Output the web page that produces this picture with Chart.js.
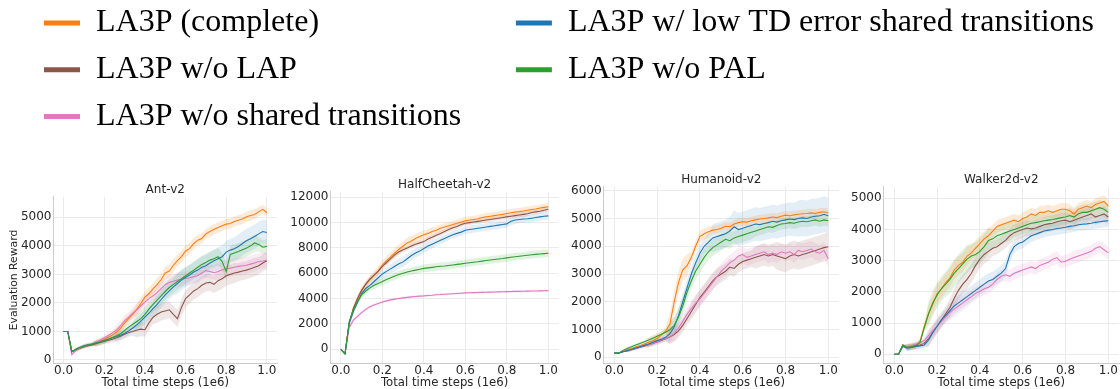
<!DOCTYPE html>
<html><head><meta charset="utf-8">
<script src="https://cdn.jsdelivr.net/npm/chart.js@4.4.0/dist/chart.umd.min.js"></script>
<style>
html,body{margin:0;padding:0;background:#fff;}
body{width:1120px;height:389px;overflow:hidden;position:relative;}
canvas{position:absolute;}
</style></head><body>
<canvas id="leg1" width="1120" height="178" style="left:0;top:-8px"></canvas>
<canvas id="leg2" width="1240" height="178" style="left:500px;top:-8px"></canvas>
<canvas id="p1" width="285" height="225" style="left:0;top:170px"></canvas>
<canvas id="p2" width="275" height="225" style="left:285px;top:170px"></canvas>
<canvas id="p3" width="275" height="225" style="left:565px;top:170px"></canvas>
<canvas id="p4" width="290" height="225" style="left:845px;top:170px"></canvas>
<script>
// ---- shared ----
const steps = [0,0.02,0.04,0.06,0.08,0.10,0.12,0.14,0.16,0.18,0.20,0.22,0.24,0.26,0.28,0.30,0.32,0.34,0.36,0.38,0.40,0.42,0.44,0.46,0.48,0.50,0.52,0.54,0.56,0.58,0.60,0.62,0.64,0.66,0.68,0.70,0.72,0.74,0.76,0.78,0.80,0.82,0.84,0.86,0.88,0.90,0.92,0.94,0.96,0.98,1.00];
const xTicks = [0, 0.2, 0.4, 0.6, 0.8, 1.0];
const seriesLabels = ['LA3P (complete)', 'LA3P w/o LAP', 'LA3P w/o shared transitions', 'LA3P w/ low TD error shared transitions', 'LA3P w/o PAL'];
const seriesColors = ['#ff7f0e', '#8c564b', '#e377c2', '#1f77b4', '#2ca02c'];
const bandColors = ['rgba(255,127,14,0.16)', 'rgba(140,86,75,0.14)', 'rgba(227,119,194,0.14)', 'rgba(31,119,180,0.12)', 'rgba(44,160,44,0.14)'];
const plotTitles = ['Ant-v2', 'HalfCheetah-v2', 'Humanoid-v2', 'Walker2d-v2'];
const xTitle = 'Total time steps (1e6)';
const yTitle = 'Evaluation Reward';

// ---- Ant-v2 ----
const antYTicks = [0, 1000, 2000, 3000, 4000, 5000];
const antComplete = [1000,1000,300,360,420,470,520,550,600,660,720,800,880,980,1120,1300,1450,1600,1780,1980,2200,2330,2500,2640,2820,3050,3120,3320,3480,3620,3820,3900,4080,4200,4260,4420,4500,4580,4640,4700,4760,4780,4850,4900,4940,5020,5060,5100,5200,5280,5160];
const antNoLAP = [1000,1000,300,350,410,460,500,530,570,610,650,690,730,780,830,900,960,1000,1050,1080,1060,1300,1500,1600,1680,1720,1760,1600,1450,1850,2150,2280,2420,2500,2620,2700,2720,2650,2780,2850,2950,3000,3050,3080,3120,3150,3200,3250,3300,3400,3480];
const antNoShared = [1000,1000,180,340,420,480,520,560,620,690,780,860,950,1050,1200,1380,1500,1640,1760,1900,2030,2150,2250,2360,2500,2640,2720,2760,2800,2830,2860,2880,2920,2950,3050,3130,3100,3060,3100,3160,3200,3220,3250,3280,3300,3320,3360,3400,3450,3470,3500];
const antLowTD = [1000,1000,280,380,440,500,530,560,600,630,680,730,780,820,870,940,1020,1120,1230,1360,1500,1640,1800,1950,2120,2280,2420,2560,2680,2800,2900,2980,3080,3150,3250,3300,3400,3480,3550,3620,3780,3850,3900,3980,4080,4180,4250,4330,4420,4500,4470];
const antNoPAL = [1000,1000,300,370,430,490,520,550,590,630,680,730,790,850,920,1040,1150,1250,1350,1450,1600,1780,1950,2100,2250,2400,2540,2650,2750,2850,2950,3050,3150,3250,3350,3420,3500,3550,3620,3450,3100,3700,3750,3800,3860,3920,4000,4100,4050,3950,3980];
const antCompleteSpread = [0,60,100,150,200,220,200,180,180,180,160];
const antNoLAPSpread = [0,60,100,150,250,300,300,300,350,320,300];
const antNoSharedSpread = [0,80,100,180,220,250,250,250,300,300,280];
const antLowTDSpread = [0,60,100,150,250,300,350,380,400,420,420];
const antNoPALSpread = [0,60,100,150,250,300,300,300,300,300,250];

// ---- HalfCheetah-v2 ----
const hcYTicks = [0, 2000, 4000, 6000, 8000, 10000, 12000];
const hcComplete = [0,-350,2100,3200,4000,4650,5100,5500,5850,6200,6650,7000,7300,7600,7900,8150,8400,8550,8750,8900,9050,9150,9300,9400,9550,9650,9750,9850,9950,10050,10150,10200,10250,10300,10400,10450,10500,10550,10600,10650,10720,10780,10830,10870,10920,10980,11030,11080,11150,11200,11250];
const hcNoLAP = [0,-350,2100,3200,4000,4650,5150,5550,5850,6150,6550,6850,7150,7450,7700,7850,8000,8150,8300,8400,8500,8700,8850,9000,9150,9300,9450,9600,9700,9850,9950,10000,10050,10100,10150,10200,10250,10300,10350,10400,10450,10500,10550,10600,10650,10700,10800,10850,10900,10980,11050];
const hcNoShared = [0,-350,1700,2300,2600,2900,3150,3350,3500,3620,3730,3820,3900,3960,4010,4060,4100,4140,4170,4200,4220,4250,4270,4300,4320,4350,4370,4390,4410,4430,4450,4460,4470,4480,4490,4500,4510,4520,4530,4540,4550,4560,4570,4575,4580,4590,4600,4605,4610,4620,4630];
const hcLowTD = [0,-350,2000,3000,3700,4400,4800,5050,5350,5650,5950,6150,6350,6550,6750,6900,7150,7400,7600,7750,7950,8150,8300,8450,8600,8750,8900,9050,9150,9250,9400,9450,9500,9550,9600,9650,9700,9750,9800,9850,9900,10100,10200,10250,10280,10300,10350,10400,10450,10500,10530];
const hcNoPAL = [0,-350,2100,3100,3800,4300,4600,4850,5050,5200,5350,5500,5650,5780,5900,6000,6100,6180,6250,6320,6390,6430,6470,6510,6550,6580,6620,6660,6700,6740,6790,6830,6870,6910,6960,7010,7050,7090,7130,7170,7220,7260,7300,7340,7380,7420,7460,7490,7520,7550,7580];
const hcCompleteSpread = [0,300,350,400,350,300,300,300,300,300,300];
const hcNoLAPSpread = [0,200,200,200,200,200,200,200,200,200,200];
const hcNoSharedSpread = [0,150,100,100,100,100,100,100,100,100,100];
const hcLowTDSpread = [0,300,350,400,350,300,300,300,300,300,300];
const hcNoPALSpread = [0,250,300,300,300,300,300,300,300,300,300];

// ---- Humanoid-v2 ----
const humYTicks = [0, 1000, 2000, 3000, 4000, 5000, 6000];
const humComplete = [150,150,220,270,320,370,420,480,540,600,680,800,950,1200,2000,2700,3150,3300,3600,4000,4350,4450,4520,4580,4600,4650,4720,4700,4800,4850,4880,4870,4920,4950,4980,5000,5020,5050,5030,5080,5120,5100,5130,5150,5170,5180,5200,5180,5220,5240,5200];
const humNoLAP = [150,150,200,230,270,320,360,400,450,500,550,610,670,740,820,950,1150,1400,1650,1900,2150,2350,2550,2750,2900,3000,3100,3250,3200,3350,3450,3500,3550,3600,3650,3700,3650,3700,3650,3600,3550,3650,3700,3650,3700,3750,3800,3850,3900,3950,3980];
const humNoShared = [150,150,200,230,270,320,370,420,460,510,560,620,680,750,850,1050,1300,1550,1750,1950,2100,2300,2500,2700,2900,3100,3250,3400,3500,3650,3700,3600,3650,3700,3750,3800,3700,3750,3700,3800,3750,3800,3700,3850,3800,3850,3900,3800,3750,3850,3550];
const humLowTD = [150,150,200,240,280,330,380,430,480,540,600,650,720,850,1100,1500,2000,2500,3000,3400,3750,4000,4150,4300,4350,4400,4450,4550,4700,4600,4650,4700,4750,4800,4780,4820,4850,4900,4870,4920,4950,4980,4960,5000,5020,5000,5050,5080,5100,5150,5100];
const humNoPAL = [150,150,250,320,380,440,500,560,620,690,760,830,900,1000,1150,1450,1850,2350,2750,3100,3350,3600,3800,3950,4050,4150,4250,4200,4300,4350,4400,4450,4500,4550,4600,4650,4700,4680,4750,4800,4820,4850,4830,4870,4900,4880,4920,4950,4900,4950,4920];
const humCompleteSpread = [0,50,150,400,200,150,150,150,150,150,150];
const humNoLAPSpread = [0,50,100,250,300,300,300,400,500,500,500];
const humNoSharedSpread = [0,50,100,250,300,300,300,300,300,300,300];
const humLowTDSpread = [0,50,100,300,300,500,600,600,600,650,650];
const humNoPALSpread = [0,50,100,300,300,300,250,200,200,200,200];

// ---- Walker2d-v2 ----
const walkYTicks = [0, 1000, 2000, 3000, 4000, 5000];
const walkComplete = [0,0,300,220,250,280,400,900,1300,1600,1950,2100,2300,2450,2700,2850,2950,3150,3250,3400,3550,3700,3800,3950,4100,4150,4200,4250,4300,4250,4350,4400,4500,4450,4550,4550,4600,4550,4600,4650,4650,4600,4500,4650,4700,4750,4700,4800,4850,4900,4750];
const walkNoLAP = [0,0,300,220,240,270,300,350,500,700,900,1100,1300,1500,1800,2050,2250,2400,2600,2850,3050,3200,3300,3400,3450,3550,3650,3800,3900,3950,4000,4050,4020,4050,4100,4150,4180,4200,4250,4280,4300,4250,4300,4350,4400,4450,4500,4400,4450,4500,4400];
const walkNoShared = [0,0,280,250,280,320,360,450,600,750,900,1050,1200,1350,1450,1550,1650,1750,1850,1950,2020,2100,2150,2250,2400,2500,2550,2500,2600,2650,2700,2750,2800,2750,2850,2900,2950,3050,3100,2950,2980,3050,3100,3150,3200,3250,3300,3400,3450,3350,3250];
const walkLowTD = [0,0,250,200,220,250,270,300,450,700,900,1100,1250,1400,1550,1650,1750,1850,1950,2050,2150,2250,2350,2400,2500,2600,2750,3200,3450,3550,3600,3700,3800,3850,3900,3950,3980,4000,4030,4050,4070,4100,4120,4150,4170,4180,4200,4230,4250,4270,4280];
const walkNoPAL = [0,0,300,220,250,280,380,850,1300,1650,1900,2100,2250,2400,2600,2750,2900,3050,3150,3200,3300,3450,3650,3700,3800,3850,3900,3950,4000,4050,4100,4150,4200,4220,4250,4280,4300,4320,4350,4380,4400,4450,4400,4500,4550,4550,4600,4650,4700,4650,4550];
const walkCompleteSpread = [0,100,300,300,250,200,200,200,200,200,200];
const walkNoLAPSpread = [0,100,250,300,300,250,250,250,250,250,250];
const walkNoSharedSpread = [0,100,200,250,200,200,200,200,200,200,200];
const walkLowTDSpread = [0,100,200,250,250,250,200,200,200,200,200];
const walkNoPALSpread = [0,100,400,450,400,300,250,250,250,250,250];

const plots = [
  {id:'p1', title:plotTitles[0], series:[antComplete, antNoLAP, antNoShared, antLowTD, antNoPAL],
   spreads:[antCompleteSpread, antNoLAPSpread, antNoSharedSpread, antLowTDSpread, antNoPALSpread],
   yMin:-116, yMax:5722, yTicks:antYTicks, yWidth:53.5, padTop:12.3, padRight:8, showYTitle:true},
  {id:'p2', title:plotTitles[1], series:[hcComplete, hcNoLAP, hcNoShared, hcLowTD, hcNoPAL],
   spreads:[hcCompleteSpread, hcNoLAPSpread, hcNoSharedSpread, hcLowTDSpread, hcNoPALSpread],
   yMin:-1105, yMax:12440, yTicks:hcYTicks, yWidth:45.5, padTop:7.3, padRight:1.3, showYTitle:false},
  {id:'p3', title:plotTitles[2], series:[humComplete, humNoLAP, humNoShared, humLowTD, humNoPAL],
   spreads:[humCompleteSpread, humNoLAPSpread, humNoSharedSpread, humLowTDSpread, humNoPALSpread],
   yMin:-216, yMax:6144, yTicks:humYTicks, yWidth:38.6, padTop:2.3, padRight:1, showYTitle:false},
  {id:'p4', title:plotTitles[3], series:[walkComplete, walkNoLAP, walkNoShared, walkLowTD, walkNoPAL],
   spreads:[walkCompleteSpread, walkNoLAPSpread, walkNoSharedSpread, walkLowTDSpread, walkNoPALSpread],
   yMin:-288, yMax:5372, yTicks:walkYTicks, yWidth:38.6, padTop:2.3, padRight:16, showYTitle:false}
];

const lineOrder = [4, 3, 2, 1, 0]; // later-plotted series on top
const tickColor = '#262626';

function buildDatasets(p) {
  const ds = [];
  p.series.forEach((vals, s) => {
    ds.push({label: seriesLabels[s], data: steps.map((x, i) => ({x, y: vals[i]})),
      borderColor: seriesColors[s], borderWidth: 1.1, pointRadius: 0, fill: false, order: lineOrder[s]});
  });
  p.series.forEach((vals, s) => {
    const sp = p.spreads[s];
    ds.push({label: '', data: steps.map((x, i) => ({x, y: vals[i] - sp[Math.round(i / 5)]})),
      borderWidth: 0, pointRadius: 0, fill: false, order: 20 + s});
    ds.push({label: '', data: steps.map((x, i) => ({x, y: vals[i] + sp[Math.round(i / 5)]})),
      borderWidth: 0, pointRadius: 0, fill: '-1', backgroundColor: bandColors[s], order: 20 + s});
  });
  return ds;
}

plots.forEach(p => {
  new Chart(document.getElementById(p.id), {
    type: 'line',
    data: {datasets: buildDatasets(p)},
    options: {
      responsive: false, animation: false, events: [],
      layout: {padding: {top: p.padTop, right: p.padRight, left: 0, bottom: 0}},
      plugins: {
        legend: {display: false}, tooltip: {enabled: false},
        title: {display: true, text: p.title, color: tickColor, fullSize: false,
          font: {family: 'DejaVu Sans', size: 12, weight: 'normal'}, padding: 0}
      },
      scales: {
        x: {type: 'linear', min: -0.05, max: 1.05,
          afterBuildTicks: sc => { sc.ticks = xTicks.map(v => ({value: v})); },
          afterFit: sc => { sc.height = 31.7; },
          ticks: {callback: v => Number(v).toFixed(1), color: tickColor, padding: 0, maxRotation: 0,
            font: {family: 'DejaVu Sans', size: 12}},
          grid: {color: '#ebebeb', drawTicks: false},
          border: {color: '#cccccc', width: 1},
          title: {display: true, text: xTitle, color: tickColor, padding: {top: 0, bottom: 5.3},
            font: {family: 'DejaVu Sans', size: 11.7}}
        },
        y: {type: 'linear', min: p.yMin, max: p.yMax,
          afterBuildTicks: sc => { sc.ticks = p.yTicks.map(v => ({value: v})); },
          afterFit: sc => { sc.width = p.yWidth; },
          ticks: {callback: v => String(v), color: tickColor, padding: 2,
            font: {family: 'DejaVu Sans', size: 12}},
          grid: {color: '#ebebeb', drawTicks: false},
          border: {color: '#cccccc', width: 1},
          title: {display: p.showYTitle, text: yTitle, color: tickColor, padding: {top: 7.5, bottom: 0},
            font: {family: 'DejaVu Sans', size: 10.8}}
        }
      }
    }
  });
});

// ---- legend (two columns) ----
function legendChart(id, idxs, padLeft) {
  new Chart(document.getElementById(id), {
    type: 'line',
    data: {datasets: idxs.map(s => ({label: seriesLabels[s], data: [], backgroundColor: seriesColors[s],
      borderColor: seriesColors[s], borderWidth: 0}))},
    options: {
      responsive: false, animation: false, events: [],
      layout: {padding: {left: padLeft, top: 0.2, right: 0, bottom: 0}},
      scales: {x: {display: false}, y: {display: false}},
      plugins: {
        tooltip: {enabled: false},
        legend: {display: true, position: 'left', align: 'start',
          labels: {boxWidth: 36, boxHeight: 5, padding: 14.8, color: '#000',
            font: {family: 'Liberation Serif', size: 32}}}
      }
    }
  });
}
legendChart('leg1', [0, 1, 2], 29.2);
legendChart('leg2', [3, 4], 1.1);
</script>
</body></html>
